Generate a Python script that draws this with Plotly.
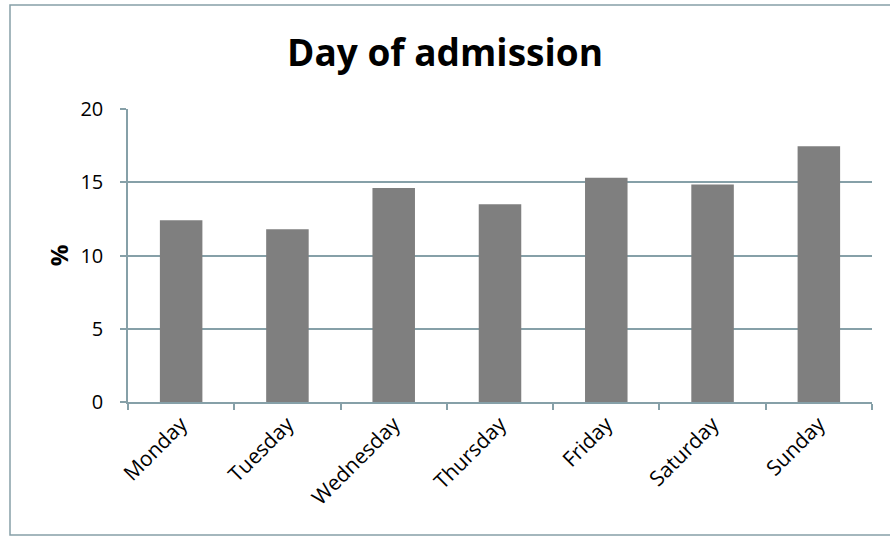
import plotly.graph_objects as go

days = ["Monday", "Tuesday", "Wednesday", "Thursday", "Friday", "Saturday", "Sunday"]
percent = [12.4, 11.8, 14.6, 13.5, 15.3, 14.85, 17.45]
y_ticks = [0, 5, 10, 15, 20]

L, R, T, B = 128, 18, 109, 137
W, H = 890, 539
pw, ph = W - L - R, H - T - B
line_col = "#86a0a8"
font_fam = "Open Sans, Noto Sans, sans-serif"

fig = go.Figure(go.Bar(x=days, y=percent, marker=dict(color="#7f7f7f", line=dict(width=0)), width=0.4))

fig.update_layout(
    width=W, height=H,
    margin=dict(l=L, r=R, t=T, b=B, autoexpand=False),
    paper_bgcolor="white", plot_bgcolor="white",
    font=dict(family=font_fam, color="black", size=19),
    title=dict(text="<b>Day of admission</b>", x=0.5, xanchor="center", y=1 - 53 / H, yanchor="middle",
               font=dict(size=37, family=font_fam, color="black")),
    showlegend=False,
    bargap=0.6,
)
fig.update_xaxes(
    type="category", tickangle=-45, showline=True, linecolor=line_col, linewidth=1.5,
    ticks="outside", tickson="boundaries", ticklen=6, tickcolor=line_col, tickwidth=1.5,
    showgrid=False, tickfont=dict(size=21), automargin=False,
)
fig.update_yaxes(
    range=[0, 20], tickvals=y_ticks, showline=True, linecolor=line_col, linewidth=1.5,
    ticks="outside", ticklen=6, tickcolor=line_col, tickwidth=1.5, ticklabelstandoff=13,
    showgrid=True, gridcolor=line_col, gridwidth=1.5, zeroline=False, automargin=False,
    title=dict(text="<b>%</b>", font=dict(size=24), standoff=5), tickfont=dict(size=20),
)
fig.add_shape(type="rect", xref="paper", yref="paper",
              x0=(10 - L) / pw, x1=(896 - L) / pw,
              y0=(H - B - 535) / ph, y1=(H - B - 5) / ph,
              line=dict(color=line_col, width=1.5), fillcolor="rgba(0,0,0,0)", layer="below")

fig.write_html("out.html", config={"displayModeBar": False},
               post_script="document.body.style.margin='0';")
